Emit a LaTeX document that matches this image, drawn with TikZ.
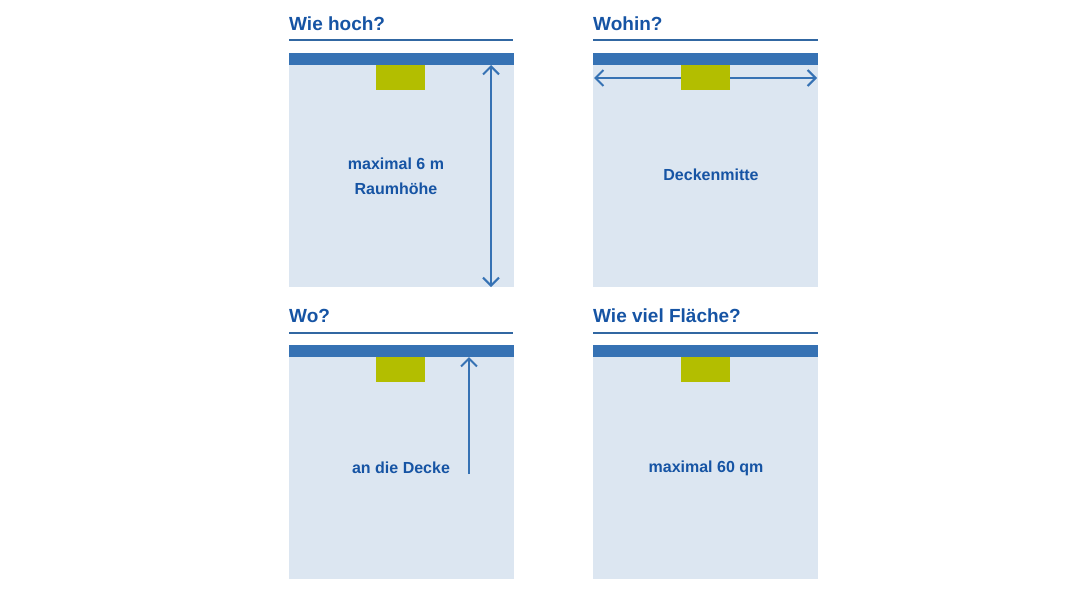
\documentclass[tikz,border=0pt]{standalone}
\usepackage{fontspec}
\setmainfont{Liberation Sans}
\usepackage{tikz}
\usetikzlibrary{arrows.meta, positioning}
\usepackage{xcolor}
\definecolor{ceilingblue}{RGB}{54, 114, 180}
\definecolor{titleblue}{RGB}{22, 84, 164}
\definecolor{roomfill}{RGB}{220, 230, 241}
\definecolor{lampgreen}{RGB}{179, 190, 0}

\begin{document}
\begin{tikzpicture}[x=1pt, y=-1pt,
    room/.style={rectangle, fill=roomfill, inner sep=0pt, minimum width=225pt, minimum height=222pt, anchor=north west},
    ceiling/.style={rectangle, fill=ceilingblue, inner sep=0pt, minimum width=225pt, minimum height=12pt, anchor=south west},
    lamp/.style={rectangle, fill=lampgreen, inner sep=0pt, minimum width=49pt, minimum height=25pt, anchor=north west},
    heading/.style={font=\bfseries\fontsize{19}{22}\selectfont, text=titleblue, anchor=base west, inner sep=0pt},
    label/.style={font=\bfseries\fontsize{16}{25}\selectfont, text=titleblue, align=center},
    rule/.style={ceilingblue!90!black, line width=2pt},
    arrow/.style={{Straight Barb[length=8pt, width=16pt]}-{Straight Barb[length=8pt, width=16pt]}, ceilingblue, line width=2pt}
]
    \useasboundingbox (0,0) rectangle (1080,600);

    % Rooms
    \node[room] (hochroom) at (289,65) {};
    \node[room] (wohinroom) at (593,65) {};
    \node[room] (woroom) at (289,357) {};
    \node[room] (flaecheroom) at (593,357) {};

    % Ceilings
    \node[ceiling] (hochceil) at (hochroom.north west) {};
    \node[ceiling] (wohinceil) at (wohinroom.north west) {};
    \node[ceiling] (woceil) at (woroom.north west) {};
    \node[ceiling] (flaecheceil) at (flaecheroom.north west) {};

    % Arrow behind the lamp
    \coordinate (wohinleft) at (594,78);
    \coordinate (wohinright) at (817,78);
    \draw[arrow] (wohinleft) -- (wohinright);

    % Lamps
    \node[lamp] (hochlamp) at (376,65) {};
    \node[lamp] (wohinlamp) at (681,65) {};
    \node[lamp] (wolamp) at (376,357) {};
    \node[lamp] (flaechelamp) at (681,357) {};

    % Headings
    \node[heading] (hochtitle) at (289,30) {Wie hoch?};
    \node[heading] (wohintitle) at (593,30) {Wohin?};
    \node[heading] (wotitle) at (289,322) {Wo?};
    \node[heading] (flaechetitle) at (593,322) {Wie viel Fläche?};
    \draw[rule] (289,40) -- (513,40);
    \draw[rule] (593,40) -- (818,40);
    \draw[rule] (289,333) -- (513,333);
    \draw[rule] (593,333) -- (818,333);

    % Labels
    \node[label] (hochtext) at (396,176) {maximal 6 m\\Raumhöhe};
    \node[label] (wohintext) at (711,175) {Deckenmitte};
    \node[label] (wotext) at (401,468) {an die Decke};
    \node[label] (flaechetext) at (706,468) {maximal 60 qm};

    % Arrows
    \coordinate (hochtop) at (491,65);
    \coordinate (hochbottom) at (491,287);
    \draw[arrow] (hochtop) -- (hochbottom);
    \coordinate (wofoot) at (469,474);
    \draw[arrow, -{Straight Barb[length=8pt, width=16pt]}] (wofoot) -- (wofoot |- woceil.south);

\end{tikzpicture}
\end{document}
